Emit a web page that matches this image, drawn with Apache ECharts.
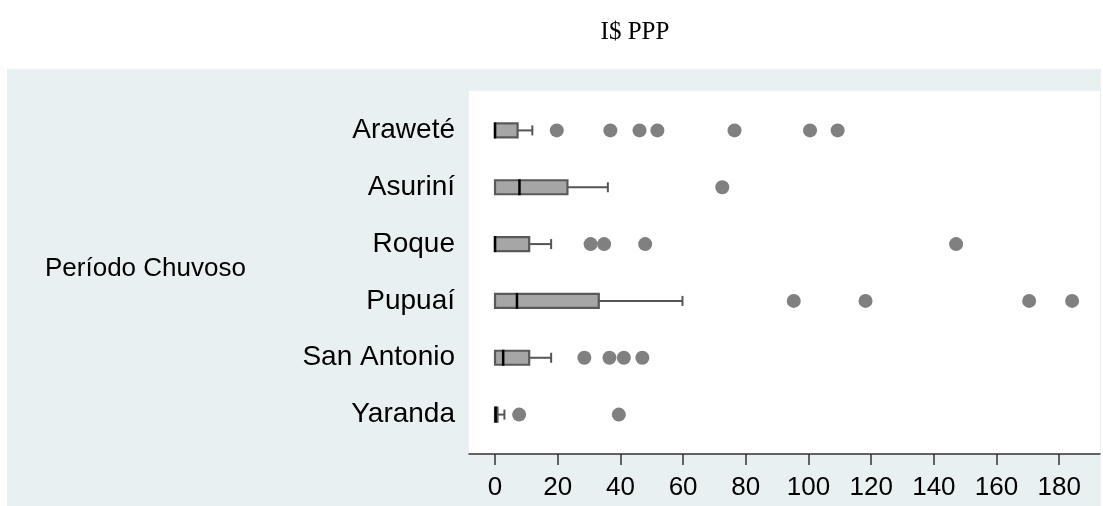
<!DOCTYPE html>
<html>
<head>
<meta charset="utf-8">
<script src="https://cdn.jsdelivr.net/npm/echarts@6/dist/echarts.min.js"></script>
<style>
  html, body { margin: 0; padding: 0; background: #fff; }
  #chart { width: 1103px; height: 506px; }
</style>
</head>
<body>
<div id="chart"></div>
<script>
  // groups, top to bottom
  var categories = ['Araweté', 'Asuriní', 'Roque', 'Pupuaí', 'San Antonio', 'Yaranda']
  // box stats
  var whiskerLow = [0, 0, 0, 0, 0, 0]
  var q1 = [0, 0, 0, 0, 0, 0]
  var medians = [0, 7.8, 0, 7.0, 2.6, 0.2]
  var q3 = [7.2, 23.1, 10.9, 33.1, 10.9, 0.8]
  var whiskerHigh = [11.9, 36.0, 17.9, 59.8, 17.9, 3.0]
  var outliers = [
    [19.7, 36.8, 46.1, 51.8, 76.4, 100.5, 109.3],
    [72.5],
    [30.5, 34.8, 47.9, 147.1],
    [95.3, 118.2, 170.4, 184.1],
    [28.5, 36.5, 41.1, 47.0],
    [7.7, 39.5]
  ]
  var xTicks = [0, 20, 40, 60, 80, 100, 120, 140, 160, 180]
  var xMin = -8.3
  var xMax = 193

  var fontSans = '"Liberation Sans", Arial, sans-serif'

  var boxData = categories.map(function (c, i) {
    return [i, whiskerLow[i], q1[i], medians[i], q3[i], whiskerHigh[i]]
  })
  var outlierData = []
  outliers.forEach(function (list, i) {
    list.forEach(function (v) { outlierData.push([v, i]) })
  })

  function renderBox (params, api) {
    var i = api.value(0)
    var lo = api.coord([api.value(1), i])
    var b1 = api.coord([api.value(2), i])
    var md = api.coord([api.value(3), i])
    var b3 = api.coord([api.value(4), i])
    var hi = api.coord([api.value(5), i])
    var y = b1[1]
    var h = 14
    var cap = 10
    var children = []
    if (hi[0] > b3[0]) {
      children.push({ type: 'line', shape: { x1: b3[0], y1: y, x2: hi[0], y2: y },
        style: { stroke: '#555', lineWidth: 2 } })
      children.push({ type: 'line', shape: { x1: hi[0], y1: y - cap / 2, x2: hi[0], y2: y + cap / 2 },
        style: { stroke: '#555', lineWidth: 2 } })
    }
    if (lo[0] < b1[0]) {
      children.push({ type: 'line', shape: { x1: lo[0], y1: y, x2: b1[0], y2: y },
        style: { stroke: '#555', lineWidth: 2 } })
      children.push({ type: 'line', shape: { x1: lo[0], y1: y - cap / 2, x2: lo[0], y2: y + cap / 2 },
        style: { stroke: '#555', lineWidth: 2 } })
    }
    children.push({ type: 'rect', shape: { x: b1[0], y: y - h / 2, width: b3[0] - b1[0], height: h },
      style: { fill: '#a6a6a6', stroke: '#595959', lineWidth: 2.2 } })
    children.push({ type: 'line', shape: { x1: md[0], y1: y - h / 2 - 1, x2: md[0], y2: y + h / 2 + 1 },
      style: { stroke: '#000', lineWidth: 2.5 } })
    return { type: 'group', children: children }
  }

  var option = {
    backgroundColor: '#fff',
    animation: false,
    title: {
      text: 'I$ PPP',
      left: 630,
      textAlign: 'center',
      top: 15,
      textStyle: { fontFamily: '"Liberation Serif", "Times New Roman", serif', fontWeight: 'normal', fontSize: 25, color: '#000' }
    },
    graphic: [
      { type: 'rect', z: -10, shape: { x: 7, y: 69, width: 1094, height: 437 }, style: { fill: '#e9f0f2' } },
      { type: 'text', left: 45, top: 256, style: { text: 'Período Chuvoso', font: '26px ' + fontSans, fill: '#000' } }
    ],
    grid: [
      { left: 469, right: 3, top: 91, bottom: 52, show: true, backgroundColor: '#fff', borderWidth: 0 },
      { left: 469, right: 3, top: 102, bottom: 63 }
    ],
    xAxis: [
      {
        gridIndex: 0, type: 'value', min: xMin, max: xMax,
        axisLine: { show: true, lineStyle: { color: '#333', width: 1.5 } },
        axisTick: { show: true, length: 11, customValues: xTicks, lineStyle: { color: '#333', width: 1.5 } },
        axisLabel: { customValues: xTicks, fontSize: 26, fontFamily: fontSans, color: '#000', margin: 21 },
        splitLine: { show: false }
      },
      {
        gridIndex: 1, type: 'value', min: xMin, max: xMax, show: false,
        splitLine: { show: false }
      }
    ],
    yAxis: [
      { gridIndex: 0, type: 'value', show: false, splitLine: { show: false } },
      {
        gridIndex: 1, type: 'category', data: categories, inverse: true,
        axisLine: { show: false }, axisTick: { show: false }, splitLine: { show: false },
        axisLabel: { fontSize: 28, fontFamily: fontSans, color: '#000', margin: 14 }
      }
    ],
    series: [
      {
        type: 'custom', xAxisIndex: 1, yAxisIndex: 1,
        renderItem: renderBox, data: boxData,
        encode: { x: [1, 2, 3, 4, 5], y: 0 }
      },
      {
        type: 'scatter', xAxisIndex: 1, yAxisIndex: 1,
        data: outlierData, symbol: 'circle', symbolSize: 14,
        itemStyle: { color: '#808080', opacity: 1 }
      }
    ]
  }

  var chart = echarts.init(document.getElementById('chart'))
  chart.setOption(option)
</script>
</body>
</html>
